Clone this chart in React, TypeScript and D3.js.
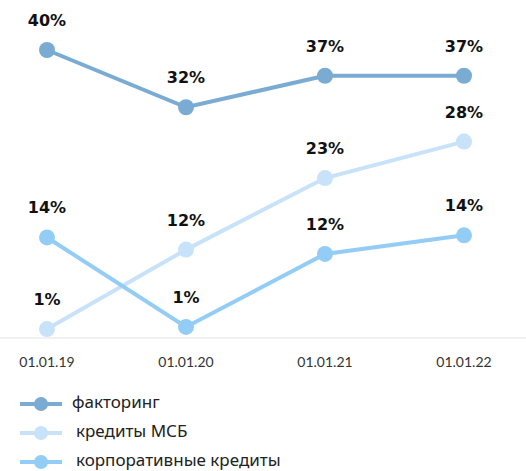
import React, { useEffect, useRef } from "react";
import * as d3 from "d3";

const dates = ["01.01.19", "01.01.20", "01.01.21", "01.01.22"];
const factoring = [40, 32, 36.4, 36.4];
const factoringLabels = ["40%", "32%", "37%", "37%"];
const msb = [1, 12.1, 22.1, 27.2];
const msbLabels = ["1%", "12%", "23%", "28%"];
const corporate = [13.8, 1.3, 11.5, 14.1];
const corporateLabels = ["14%", "1%", "12%", "14%"];
const seriesNames = ["факторинг", "кредиты МСБ", "корпоративные кредиты"];

const colors = ["#7aabd3", "#c7e2f9", "#93cdf6"];

export default function App() {
  const ref = useRef<SVGSVGElement>(null);

  useEffect(() => {
    const width = 526;
    const height = 471;
    const svg = d3.select(ref.current).attr("width", width).attr("height", height);
    svg.selectAll("*").remove();

    const font = "Lato, 'Noto Sans', sans-serif";
    const boldFont = "'DejaVu Sans', sans-serif";
    const legendFont = "'Noto Sans', sans-serif";

    const x = d3.scalePoint().domain(dates).range([47, 464]);
    const y = d3.scaleLinear().domain([0, 40]).range([336.2, 50]);

    // baseline
    svg.append("line")
      .attr("x1", 0).attr("x2", width)
      .attr("y1", 338).attr("y2", 338)
      .attr("stroke", "#e3e3e3").attr("stroke-width", 1);

    // x labels
    svg.selectAll(".xlab").data(dates).join("text")
      .attr("class", "xlab")
      .attr("x", d => x(d)!)
      .attr("y", 367)
      .attr("text-anchor", "middle")
      .attr("font-family", font)
      .attr("font-size", 14)
      .attr("fill", "#333")
      .text(d => d);

    const series = [
      { values: factoring, labels: factoringLabels },
      { values: msb, labels: msbLabels },
      { values: corporate, labels: corporateLabels },
    ];

    const line = d3.line<number>()
      .x((_, i) => x(dates[i])!)
      .y(d => y(d));

    series.forEach((s, k) => {
      const g = svg.append("g");
      g.append("path")
        .datum(s.values)
        .attr("d", line)
        .attr("fill", "none")
        .attr("stroke", colors[k])
        .attr("stroke-width", 4);
      g.selectAll("circle").data(s.values).join("circle")
        .attr("cx", (_, i) => x(dates[i])!)
        .attr("cy", d => y(d))
        .attr("r", 8)
        .attr("fill", colors[k]);
    });

    series.forEach(s => {
      svg.append("g").selectAll("text").data(s.values).join("text")
        .attr("x", (_, i) => x(dates[i])!)
        .attr("y", d => y(d) - 24)
        .attr("text-anchor", "middle")
        .attr("font-family", boldFont)
        .attr("font-weight", "bold")
        .attr("font-size", 16)
        .attr("fill", "#111")
        .text((_, i) => s.labels[i]);
    });

    // legend
    const legend = svg.append("g");
    seriesNames.forEach((name, k) => {
      const ly = 404 + k * 29;
      legend.append("line")
        .attr("x1", 20).attr("x2", 62)
        .attr("y1", ly).attr("y2", ly)
        .attr("stroke", colors[k]).attr("stroke-width", 4);
      legend.append("circle")
        .attr("cx", 41).attr("cy", ly).attr("r", 7)
        .attr("fill", colors[k]);
      legend.append("text")
        .attr("x", k === 0 ? 72 : 76)
        .attr("y", ly + 4)
        .attr("font-family", legendFont)
        .attr("font-size", 17)
        .attr("fill", "#222")
        .text(name);
    });
  }, []);

  return <svg ref={ref} style={{ position: "absolute", left: 0, top: 0 }} />;
}
